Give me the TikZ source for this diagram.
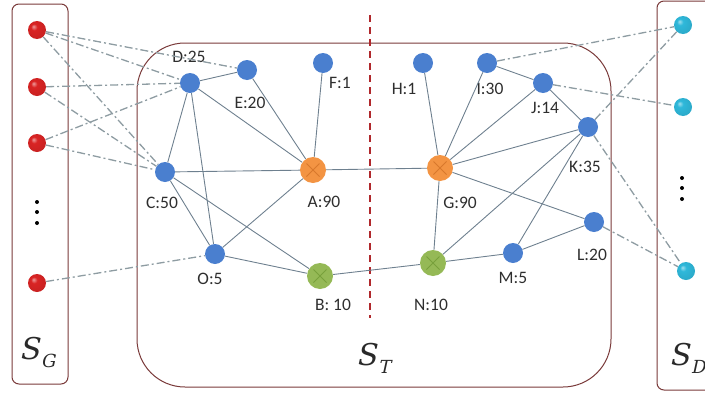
\documentclass[tikz,border=0pt]{standalone}
\usepackage{fontspec}
\setmainfont{Carlito}
\newfontfamily\grouptitle[FakeSlant=0.22]{DejaVu Serif}
\usetikzlibrary{shapes.misc}
\definecolor{edgec}{HTML}{6E808F}
\definecolor{linkc}{HTML}{8E9CA2}
\definecolor{boxc}{HTML}{7A3A3A}
\definecolor{splitc}{HTML}{B0282C}
\definecolor{bluen}{HTML}{4A7FCF}
\definecolor{orangen}{HTML}{F39443}
\definecolor{orangex}{HTML}{D8782C}
\definecolor{greenn}{HTML}{95B956}
\definecolor{greenx}{HTML}{78A03C}
\definecolor{redn}{HTML}{D92424}
\definecolor{cyann}{HTML}{2FB8DA}
\definecolor{txtc}{HTML}{2E2E2E}
% glossy balls for the source and sink nodes
\pgfdeclareradialshading{redball}{\pgfpoint{-10bp}{10bp}}{color(0bp)=(redn!45!white); color(9bp)=(redn); color(30bp)=(redn!92!black); color(44bp)=(redn!70!black); color(50bp)=(redn!55!black)}
\pgfdeclareradialshading{cyanball}{\pgfpoint{-10bp}{10bp}}{color(0bp)=(cyann!45!white); color(9bp)=(cyann); color(30bp)=(cyann!92!black); color(44bp)=(cyann!72!black); color(50bp)=(cyann!58!black)}
\newcommand{\grp}[1]{{\grouptitle\fontsize{30}{32}\selectfont S\kern1.5pt\raisebox{-8pt}{\fontsize{18}{20}\selectfont #1}}}
\begin{document}
\begin{tikzpicture}[x=1pt,y=-1pt,
  groupbox/.style={draw=boxc, line width=1pt},
  bnode/.style={circle, fill=bluen, minimum size=20pt, inner sep=0pt},
  xnode/.style={circle, minimum size=26pt, inner sep=0pt,
    path picture={\draw[line width=0.9pt, #1]
      ([shift={(-6.5pt,-6.5pt)}]path picture bounding box.center) -- ([shift={(6.5pt,6.5pt)}]path picture bounding box.center)
      ([shift={(-6.5pt,6.5pt)}]path picture bounding box.center) -- ([shift={(6.5pt,-6.5pt)}]path picture bounding box.center);}},
  anode/.style={xnode=orangex, fill=orangen},
  gnode/.style={xnode=greenx, fill=greenn},
  rnode/.style={circle, minimum size=18pt, inner sep=0pt, shading=redball},
  cnode/.style={circle, minimum size=18pt, inner sep=0pt, shading=cyanball},
  lbl/.style={text=txtc, font=\fontsize{17.5}{19}\selectfont, inner sep=0pt},
  glbl/.style={text=txtc!90!black, inner sep=0pt},
  edge/.style={draw=edgec, line width=0.9pt},
  link/.style={draw=linkc, line width=1.3pt, dash pattern=on 8pt off 3pt on 2pt off 3pt},
  dotmark/.style={circle, fill=black, minimum size=4pt, inner sep=0pt}]
\useasboundingbox (0,0) rectangle (705,394);
\clip (0,0) rectangle (705,394);

% group frames
\draw[groupbox, rounded corners=7pt] (12,4) rectangle (68,384);
\draw[groupbox, rounded corners=48pt] (137,43) rectangle (611,387);
\draw[groupbox, rounded corners=7pt] (657,1) rectangle (730,390);

% split line through the middle group
\coordinate (splitTop) at (370,15);
\coordinate (splitBot) at (370,318);
\draw[splitc, line width=2.4pt, dash pattern=on 7pt off 5pt] (splitTop) -- (splitBot);

% group titles
\node[glbl] (SG) at (37,352) {\grp{G}};
\node[glbl] (ST) at (373,358) {\grp{T}};
\node[glbl] (SD) at (687,358) {\grp{D}};

% source and sink nodes
\node[rnode] (r1) at (37,30) {};
\node[rnode] (r2) at (37,87) {};
\node[rnode] (r3) at (37,143) {};
\node[rnode] (r4) at (37,283) {};
\node[cnode] (c1) at (683,25) {};
\node[cnode] (c2) at (683,107) {};
\node[cnode] (c3) at (686,271) {};
\foreach \y [count=\i] in {202,212,223} \node[dotmark] (gd\i) at (37,\y) {};
\foreach \y [count=\i] in {178,188,199} \node[dotmark] (dd\i) at (682,\y) {};

% inner nodes
\node[bnode] (D) at (190,83) {};
\node[bnode] (E) at (247,70) {};
\node[bnode] (F) at (323,63) {};
\node[bnode] (C) at (165,172) {};
\node[anode] (A) at (313,170) {};
\node[bnode] (O) at (215,254) {};
\node[gnode] (B) at (320,276) {};
\node[bnode] (H) at (423,63) {};
\node[bnode] (I) at (487,63) {};
\node[bnode] (J) at (543,83) {};
\node[bnode] (K) at (588,127) {};
\node[anode] (G) at (440,168) {};
\node[bnode] (L) at (594,222) {};
\node[bnode] (M) at (513,253) {};
\node[gnode] (N) at (433,263) {};

% labels
\node[lbl] (Dl) at (189,57) {D:25};
\node[lbl] (El) at (250,103) {E:20};
\node[lbl] (Fl) at (340,83) {F:1};
\node[lbl] (Cl) at (162,203) {C:50};
\node[lbl] (Al) at (324,202) {A:90};
\node[lbl] (Ol) at (210,279) {O:5};
\node[lbl] (Bl) at (333,305) {B: 10};
\node[lbl] (Hl) at (404,89) {H:1};
\node[lbl] (Il) at (490,89) {I:30};
\node[lbl] (Jl) at (545,108) {J:14};
\node[lbl] (Kl) at (585,167) {K:35};
\node[lbl] (Gl) at (460,203) {G:90};
\node[lbl] (Ll) at (592,255) {L:20};
\node[lbl] (Ml) at (513,278) {M:5};
\node[lbl] (Nl) at (431,305) {N:10};

% links inside the middle group
\foreach \a/\b in {D/E, D/C, D/A, D/O, E/A, F/A, C/A, C/O, C/B, O/A, O/B, B/N, A/G,
                   H/G, I/G, I/J, J/K, J/G, K/G, K/N, K/M, G/L, G/N, N/M, M/L}
  \draw[edge] (\a) -- (\b);

% links to the outer groups
\foreach \a/\b in {r1/E, r1/D, r1/C, r2/D, r2/C, r3/D, r3/C, r4/O,
                   I/c1, K/c1, J/c2, K/c3, L/c3}
  \draw[link] (\a) -- (\b);
\end{tikzpicture}
\end{document}
